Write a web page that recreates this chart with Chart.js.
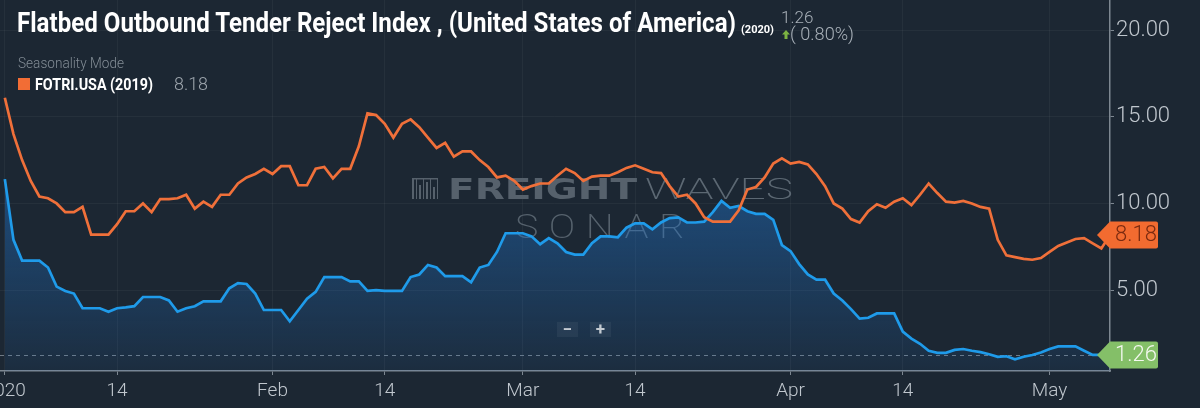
<!DOCTYPE html>
<html><head><meta charset="utf-8">
<script src="https://cdn.jsdelivr.net/npm/chart.js@4.4.1/dist/chart.umd.min.js"></script>
<style>
html,body{margin:0;padding:0;background:#1c2733;}
#wrap{position:relative;width:1200px;height:408px;overflow:hidden;background:#1c2733;font-family:Roboto,'Noto Sans',sans-serif;}
#c{position:absolute;left:0;top:0;}
.ov{position:absolute;white-space:nowrap;line-height:1;transform-origin:0 0;}
.zb{position:absolute;width:21px;height:15px;background:rgba(255,255,255,0.05);color:#c3cad1;font:700 17px/15px Roboto;text-align:center;}
</style></head><body>
<div id="wrap">
<canvas id="c" width="1200" height="408"></canvas>
<div class="ov fit" data-w="719" style="left:17px;top:9px;font-weight:700;font-size:28px;color:#ffffff;">Flatbed Outbound Tender Reject Index , (United States of America)</div>
<div class="ov" style="left:741px;top:24px;font-weight:700;font-size:11px;color:#ffffff;">(2020)</div>
<div class="ov" style="left:781px;top:9px;font-weight:300;font-size:17px;color:#a9b1b9;">1.26</div>
<svg class="ov" style="left:782px;top:30px" width="8" height="9"><path d="M4 0 L8 4.5 L5.5 4.5 L5.5 9 L2.5 9 L2.5 4.5 L0 4.5Z" fill="#7cb342"/></svg>
<div class="ov fit" data-w="64" style="left:790px;top:25px;font-weight:300;font-size:18px;color:#a9b1b9;">( 0.80%)</div>
<div class="ov fit" data-w="106" style="left:18px;top:56px;font-weight:300;font-size:14px;color:#838d96;">Seasonality Mode</div>
<div class="ov" style="left:18px;top:78px;width:12px;height:12px;background:#f26d35;"></div>
<div class="ov fit" data-w="118" style="left:35px;top:76px;font-weight:700;font-size:17px;color:#ffffff;">FOTRI.USA (2019)</div>
<div class="ov fit" data-w="34" style="left:174px;top:74px;font-weight:300;font-size:19px;color:#9ea6ae;">8.18</div>
<div class="zb" style="left:557px;top:322px;">−</div>
<div class="zb" style="left:590px;top:322px;">+</div>
</div>
<script>
// ---- data (x = days since 1 Jan 2020, one value per day) ----
const seriesNames = ['FOTRI.USA (2019)', 'FOTRI.USA (2020)'];
const fotri2020 = [
 11.4,7.9,6.7,6.7,6.7,6.3,5.2,4.95,4.8,3.95,
 3.95,3.95,3.75,3.95,4.0,4.07,4.6,4.6,4.6,4.4,
 3.75,3.95,4.07,4.35,4.35,4.35,5.1,5.4,5.35,4.8,
 3.85,3.85,3.85,3.2,3.85,4.5,4.9,5.75,5.75,5.75,
 5.5,5.5,4.95,5.0,4.95,4.95,4.95,5.75,5.9,6.45,
 6.3,5.8,5.8,5.8,5.45,6.3,6.45,7.2,8.28,8.28,
 8.28,8.1,7.65,8.0,7.7,7.2,7.05,7.05,7.7,8.1,
 8.1,8.05,8.6,8.85,8.85,8.5,8.9,9.15,9.2,8.9,
 8.9,8.95,9.5,10.15,9.75,9.85,9.55,9.4,9.4,9.05,
 7.6,7.25,6.5,5.9,5.6,5.6,4.8,4.4,3.9,3.35,
 3.4,3.65,3.65,3.65,2.6,2.2,1.9,1.5,1.38,1.38,
 1.55,1.6,1.5,1.42,1.3,1.15,1.18,1.0,1.15,1.25,
 1.4,1.6,1.75,1.75,1.75,1.5,1.26,1.26,1.26
];
const fotri2019 = [
 16.1,14.0,12.5,11.3,10.4,10.3,10.0,9.5,9.5,9.8,
 8.2,8.2,8.2,8.8,9.55,9.55,10.0,9.5,10.25,10.25,
 10.3,10.5,9.7,10.1,9.8,10.5,10.5,11.15,11.5,11.7,
 12.0,11.7,12.15,12.15,11.05,11.05,12.0,12.1,11.45,12.0,
 12.0,13.3,15.2,15.1,14.6,13.8,14.6,14.85,14.4,13.8,
 13.2,13.5,12.7,13.0,13.0,12.5,12.1,11.5,11.6,11.3,
 10.8,11.0,11.15,11.15,11.6,12.0,11.75,11.3,11.55,11.6,
 11.6,11.8,12.05,12.2,12.0,11.8,11.75,11.0,10.4,10.5,
 10.0,9.2,8.95,8.95,8.95,9.6,10.8,10.95,11.5,12.3,
 12.6,12.3,12.4,12.25,11.7,11.0,10.0,9.7,9.1,8.9,
 9.55,9.95,9.75,10.1,10.3,9.9,10.5,11.15,10.6,10.1,
 10.05,10.15,10.0,9.8,9.7,7.9,7.0,6.9,6.8,6.75,
 6.85,7.2,7.55,7.75,7.95,8.0,7.7,7.4,8.18
];
const xTickDays   = [0, 13, 31, 44, 60, 73, 91, 104, 121];
const xTickLabels = ['2020','14','Feb','14','Mar','14','Apr','14','May'];
const yTicks = [5, 10, 15, 20];

// ---- styling ----
const ORANGE = '#f0703a';
const BLUE = '#1f9bea';
const AXIS = '#7d8791';
const LABEL = '#c0c7ce';

// horizontally fit overlay texts (condensed look of the original)
document.querySelectorAll('.fit').forEach(el => {
  const w = el.getBoundingClientRect().width;
  el.style.transform = 'scaleX(' + (Number(el.dataset.w) / w) + ')';
});

function fitText(c, text, x, baseline, width, font, color, spacing){
  c.save();
  c.font = font;
  if (spacing) c.letterSpacing = spacing;
  const w = c.measureText(text).width;
  c.translate(x, baseline);
  c.scale(width / w, 1);
  c.fillStyle = color;
  c.fillText(text, 0, 0);
  c.restore();
}

const watermark = {
  id: 'watermark',
  beforeDatasetsDraw(chart){
    const c = chart.ctx;
    c.save();
    c.fillStyle = '#56616c';
    const bars = [[412,2,21],[416,1,21],[419,2,14],[423,1,21],[426,2,17],[430,1,21],[433,2,12],[437,1,21]];
    bars.forEach(b => c.fillRect(b[0], 199 - b[2], b[1], b[2]));
    c.fillRect(412, 178, 26, 1.5);
    c.restore();
    fitText(c, 'FREIGHT', 448, 199, 189, '900 29px "DejaVu Sans"', '#56616c');
    fitText(c, 'WAVES', 645, 199, 148, '200 29px Roboto', '#5c6873');
    fitText(c, 'SONAR', 515, 238, 180, '200 34px Roboto', '#56626d', '9px');
  }
};

const refLine = {
  id: 'refLine',
  beforeDatasetsDraw(chart){
    const c = chart.ctx, a = chart.chartArea, ys = chart.scales.y;
    const py = Math.round(ys.getPixelForValue(fotri2020[fotri2020.length - 1])) + 0.5;
    c.save();
    c.strokeStyle = '#6f7a85'; c.lineWidth = 1; c.setLineDash([4, 4]);
    c.beginPath(); c.moveTo(a.left, py); c.lineTo(a.right, py); c.stroke();
    c.restore();
  }
};

const badges = {
  id: 'badges',
  afterDraw(chart){
    const c = chart.ctx, a = chart.chartArea, ys = chart.scales.y;
    const list = [
      {v: fotri2019[fotri2019.length - 1], bg: '#f26b30', fg: '#7a2a10'},
      {v: fotri2020[fotri2020.length - 1], bg: '#84bf68', fg: '#f4f8f0'}
    ];
    list.forEach(b => {
      const py = ys.getPixelForValue(b.v);
      const tip = a.right - 13, l = a.right, r = a.right + 48, h = 27;
      c.save();
      c.fillStyle = b.bg;
      c.beginPath();
      c.moveTo(tip, py);
      c.lineTo(l, py - h / 2);
      c.lineTo(r - 2, py - h / 2);
      c.quadraticCurveTo(r, py - h / 2, r, py - h / 2 + 2);
      c.lineTo(r, py + h / 2 - 2);
      c.quadraticCurveTo(r, py + h / 2, r - 2, py + h / 2);
      c.lineTo(l, py + h / 2);
      c.closePath();
      c.fill();
      c.fillStyle = b.fg;
      c.font = '300 22px Roboto';
      c.textAlign = 'center';
      c.textBaseline = 'middle';
      c.fillText(b.v.toFixed(2), (l + r) / 2 + 2, py + 1);
      c.restore();
    });
  }
};

const ctx = document.getElementById('c').getContext('2d');
new Chart(ctx, {
  type: 'line',
  data: {
    datasets: [
      {
        label: seriesNames[0],
        data: fotri2019.map((v, i) => ({x: i, y: v})),
        borderColor: ORANGE, borderWidth: 2.7, pointRadius: 0, tension: 0, fill: false, order: 0
      },
      {
        label: seriesNames[1],
        data: fotri2020.map((v, i) => ({x: i, y: v})),
        borderColor: BLUE, borderWidth: 2.7, pointRadius: 0, tension: 0, order: 1,
        fill: 'start',
        backgroundColor: (cx) => {
          const ch = cx.chart, a = ch.chartArea;
          if (!a) return 'rgba(0,0,0,0)';
          const g = ch.ctx.createLinearGradient(0, a.top, 0, a.bottom);
          g.addColorStop(0, 'rgba(33,120,210,0.6)');
          g.addColorStop(0.5, 'rgba(33,120,210,0.45)');
          g.addColorStop(1, 'rgba(33,120,210,0.08)');
          return g;
        }
      }
    ]
  },
  options: {
    responsive: false,
    devicePixelRatio: 1,
    animation: false,
    events: [],
    layout: {padding: 0},
    plugins: {legend: {display: false}, tooltip: {enabled: false}},
    scales: {
      x: {
        type: 'linear',
        min: -0.56, max: 128,
        afterBuildTicks: (s) => { s.ticks = xTickDays.map(v => ({value: v})); },
        afterFit: (s) => { s.height = 37; s.paddingLeft = 0; s.paddingRight = 0; },
        ticks: {
          autoSkip: false, maxRotation: 0, padding: 5,
          color: LABEL, font: {family: 'Roboto', size: 19, weight: 300},
          callback: (v) => { const i = xTickDays.indexOf(v); return i >= 0 ? xTickLabels[i] : ''; }
        },
        grid: {color: 'rgba(255,255,255,0.045)', tickColor: AXIS, tickLength: 4, lineWidth: 1},
        border: {display: true, color: AXIS, width: 1.5}
      },
      y: {
        type: 'linear', position: 'right',
        min: 0.33, max: 21.74,
        afterBuildTicks: (s) => { s.ticks = yTicks.map(v => ({value: v})); },
        afterFit: (s) => { s.width = 90; s.paddingTop = 0; s.paddingBottom = 0; },
        ticks: {
          padding: 2, color: LABEL, font: {family: 'Roboto', size: 22, weight: 300},
          callback: (v) => Number(v).toFixed(2)
        },
        grid: {color: 'rgba(255,255,255,0.045)', tickColor: AXIS, tickLength: 4, lineWidth: 1},
        border: {display: true, color: AXIS, width: 1.5}
      }
    }
  },
  plugins: [watermark, refLine, badges]
});
</script>
</body></html>
